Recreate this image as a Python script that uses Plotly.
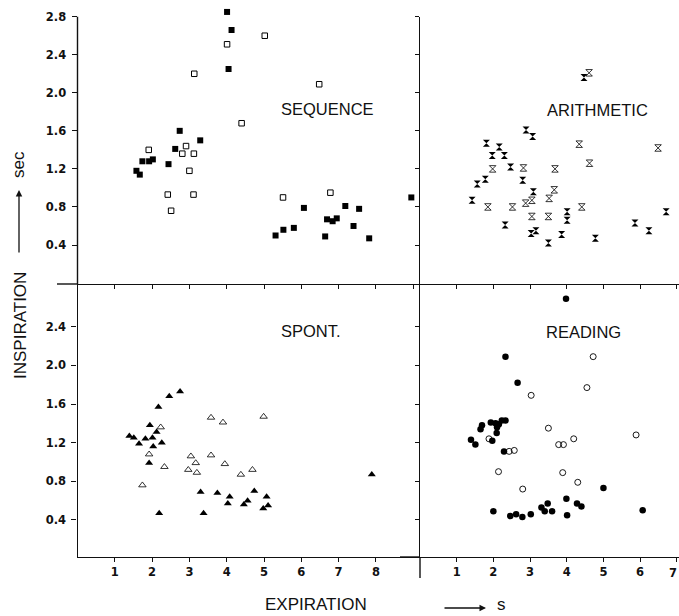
import plotly.graph_objects as go

# ---------------- data ----------------
seq_filled_x = [1.58, 1.67, 1.74, 1.92, 2.02, 2.44, 2.62, 2.74, 3.29, 4.01, 4.13, 4.05,
                5.31, 5.52, 5.80, 6.07, 6.64, 6.69, 6.84, 6.95, 7.18, 7.40, 7.55, 7.82, 8.95]
seq_filled_y = [1.18, 1.14, 1.28, 1.28, 1.30, 1.25, 1.41, 1.60, 1.50, 2.85, 2.66, 2.25,
                0.50, 0.56, 0.58, 0.79, 0.49, 0.67, 0.65, 0.68, 0.81, 0.60, 0.78, 0.47, 0.90]
seq_open_x = [1.91, 2.42, 2.51, 2.81, 2.91, 3.00, 3.12, 3.11, 3.13, 4.01, 4.40, 5.02, 5.51, 6.48, 6.78]
seq_open_y = [1.40, 0.93, 0.76, 1.36, 1.44, 1.18, 1.36, 0.93, 2.20, 2.51, 1.68, 2.60, 0.90, 2.09, 0.95]

ari_filled_x = [1.42, 1.56, 1.78, 1.81, 1.97, 2.16, 2.30, 2.32, 2.47, 2.80, 2.89, 3.07,
                3.09, 3.03, 3.16, 3.50, 3.86, 4.01, 4.01, 4.47, 4.78, 5.86, 6.24, 6.71]
ari_filled_y = [0.87, 1.04, 1.09, 1.47, 1.34, 1.43, 1.34, 0.61, 1.22, 1.08, 1.61, 1.54,
                0.96, 0.52, 0.55, 0.42, 0.51, 0.75, 0.66, 2.16, 0.47, 0.63, 0.55, 0.75]
ari_open_x = [1.98, 1.85, 2.52, 2.82, 2.88, 3.05, 3.05, 3.52, 3.66, 3.68, 3.50, 4.34, 4.62, 4.41, 4.61, 6.49]
ari_open_y = [1.20, 0.80, 0.80, 1.21, 0.84, 0.87, 0.70, 0.89, 0.98, 1.20, 0.70, 1.46, 1.26, 0.80, 2.21, 1.42]

spo_filled_x = [1.39, 1.51, 1.65, 1.82, 1.94, 1.92, 2.01, 2.03, 2.12, 2.17, 2.26, 2.19, 2.46,
                2.75, 3.30, 3.38, 3.75, 4.03, 4.08, 4.46, 4.56, 4.74, 4.98, 5.07, 5.11, 7.89]
spo_filled_y = [1.27, 1.25, 1.19, 1.24, 1.38, 0.99, 1.25, 1.16, 1.31, 1.57, 1.20, 0.47, 1.68,
                1.73, 0.69, 0.47, 0.68, 0.57, 0.64, 0.56, 0.60, 0.70, 0.52, 0.64, 0.55, 0.87]
spo_open_x = [1.74, 1.92, 2.23, 2.33, 2.97, 3.04, 3.17, 3.20, 3.58, 3.58, 3.90, 3.95, 4.38, 4.69, 4.99]
spo_open_y = [0.76, 1.08, 1.36, 0.95, 0.92, 1.06, 0.99, 0.89, 1.46, 1.07, 1.41, 0.98, 0.87, 0.92, 1.47]

rea_filled_x = [3.98, 2.33, 2.66, 1.39, 1.51, 1.65, 1.69, 1.93, 1.97, 2.06, 2.10, 2.09, 2.15,
                2.23, 2.33, 2.29, 2.00, 2.46, 2.62, 2.79, 3.02, 3.31, 3.40, 3.48, 3.60, 3.99,
                4.01, 4.28, 4.40, 5.00, 6.07]
rea_filled_y = [2.69, 2.09, 1.82, 1.23, 1.18, 1.34, 1.38, 1.41, 1.22, 1.40, 1.36, 1.30, 1.39,
                1.43, 1.43, 1.11, 0.49, 0.44, 0.46, 0.43, 0.46, 0.53, 0.49, 0.57, 0.49, 0.62,
                0.45, 0.57, 0.54, 0.73, 0.50]
rea_open_x = [4.72, 4.55, 3.03, 3.50, 1.88, 2.43, 2.57, 2.14, 2.80, 3.78, 3.91, 4.19, 3.89, 4.30, 5.89]
rea_open_y = [2.09, 1.77, 1.69, 1.35, 1.24, 1.11, 1.12, 0.90, 0.72, 1.18, 1.18, 1.24, 0.89, 0.79, 1.28]

top_y_ticks = [0.4, 0.8, 1.2, 1.6, 2.0, 2.4, 2.8]
top_y_labels = ["0.4", "0.8", "1.2", "1.6", "2.0", "2.4", "2.8"]
bot_y_ticks = [0.4, 0.8, 1.2, 1.6, 2.0, 2.4]
bot_y_labels = ["0.4", "0.8", "1.2", "1.6", "2.0", "2.4"]
left_x_ticks = [1, 2, 3, 4, 5, 6, 7, 8]
left_x_labels = ["1", "2", "3", "4", "5", "6", "7", "8"]
right_x_ticks = [1, 2, 3, 4, 5, 6, 7]
right_x_labels = ["1", "2", "3", "4", "5", "6", "7"]
panel_names = ["SEQUENCE", "ARITHMETIC", "SPONT.", "READING"]

# ---------------- layout geometry (pixels) ----------------
W, H = 679, 616

def px(x):
    return x / W
def py(y):
    return min(1.0, max(0.0, 1 - y / H))

XL0, XMID, XR1 = 77.5, 420, 679
Y_TOP, Y_MID, Y_BOT = 16.7, 284, 557
Y_TL_TOP = 5.0    # top-left panel extends a little higher so the point above 2.8 shows

left_range = [0, (XMID - XL0) / 37.3]
right_range = [0, 7.06]
top_range = [-0.01, 2.8]
bot_range = [0.017, 2.842]
top_scale = (Y_MID - Y_TOP) / (top_range[1] - top_range[0])
tl_range = [top_range[0], top_range[0] + (Y_MID - Y_TL_TOP) / top_scale]

fig = go.Figure()

def add(x, y, symbol, size, xa, ya, lw=1.0):
    fig.add_trace(go.Scatter(
        x=x, y=y, mode="markers", xaxis=xa, yaxis=ya, cliponaxis=False,
        marker=dict(symbol=symbol, size=size, color="black", line=dict(width=lw, color="black")),
        showlegend=False, hoverinfo="x+y"))

add(seq_filled_x, seq_filled_y, "square", 6, "x", "y", 0)
add(seq_open_x, seq_open_y, "square-open", 5.5, "x", "y", 1)
add(ari_filled_x, ari_filled_y, "hourglass", 7, "x2", "y2", 0)
add(ari_open_x, ari_open_y, "hourglass-open", 6.5, "x2", "y2", 0.8)
add(spo_filled_x, spo_filled_y, "triangle-up", 7, "x3", "y3", 0)
add(spo_open_x, spo_open_y, "triangle-up-open", 6.5, "x3", "y3", 0.8)
add(rea_filled_x, rea_filled_y, "circle", 6.5, "x4", "y4", 0)
add(rea_open_x, rea_open_y, "circle-open", 6, "x4", "y4", 0.9)

tickfont = dict(family="DejaVu Sans", size=11.5, color="#111", weight="bold")
ax_common = dict(showgrid=False, zeroline=False, showline=True, linecolor="#111", linewidth=1.4,
                 ticks="outside", ticklen=4, tickwidth=1, tickcolor="#111", tickfont=tickfont,
                 automargin=False)

fig.update_layout(
    width=W, height=H, margin=dict(l=0, r=0, t=0, b=0, pad=0), autosize=False,
    paper_bgcolor="white", plot_bgcolor="white",
    xaxis=dict(ax_common, domain=[px(XL0), px(XMID)], range=left_range, anchor="y",
               tickvals=[1, 2, 3, 4, 5, 6, 7, 8, 9], showticklabels=False),
    yaxis=dict(ax_common, domain=[py(Y_MID), py(Y_TL_TOP)], range=tl_range, anchor="x",
               showline=False,
               tickvals=top_y_ticks, ticktext=top_y_labels, ticklen=5, ticklabelstandoff=3),
    xaxis2=dict(ax_common, domain=[px(XMID), 1], range=right_range, anchor="y2",
                tickvals=right_x_ticks, showticklabels=False),
    yaxis2=dict(ax_common, domain=[py(Y_MID), py(Y_TOP)], range=top_range, anchor="x2",
                tickvals=top_y_ticks, showticklabels=False),
    xaxis3=dict(ax_common, domain=[px(XL0), px(XMID)], range=left_range, anchor="y3",
                tickvals=left_x_ticks, ticktext=left_x_labels),
    yaxis3=dict(ax_common, domain=[py(Y_BOT), py(Y_MID)], range=bot_range, anchor="x3",
                tickvals=bot_y_ticks, ticktext=bot_y_labels, ticklen=5, ticklabelstandoff=3),
    xaxis4=dict(ax_common, domain=[px(XMID), 1], range=right_range, anchor="y4",
                tickvals=right_x_ticks, ticktext=right_x_labels),
    yaxis4=dict(ax_common, domain=[py(Y_BOT), py(Y_MID)], range=bot_range, anchor="x4",
                tickvals=bot_y_ticks, showticklabels=False),
)

# extra frame pieces
line = dict(color="#111", width=1.4)
fig.add_shape(type="line", xref="paper", yref="paper", x0=px(XL0), x1=px(XL0), y0=py(Y_MID), y1=py(Y_TOP), line=line)
fig.add_shape(type="line", xref="paper", yref="paper", x0=px(57), x1=px(XL0), y0=py(Y_MID), y1=py(Y_MID), line=line)
fig.add_shape(type="line", xref="paper", yref="paper", x0=px(XMID), x1=px(XMID), y0=py(Y_BOT), y1=py(578), line=line)
fig.add_shape(type="line", xref="paper", yref="paper", x0=px(400), x1=px(XMID), y0=py(Y_BOT), y1=py(Y_BOT), line=line)

# last right-hand tick label sits on the page edge (hidden by plotly as overflowing)
fig.add_annotation(text=right_x_labels[-1], x=1, y=py(573), xref="paper", yref="paper",
                   showarrow=False, font=tickfont, xanchor="right", yanchor="middle")

# panel labels
lab_font = dict(family="Liberation Sans, Arial", size=16.5, color="#111")
label_pos = [(327, 109), (597, 110), (311, 331), (583, 332)]
for name, (lx, ly) in zip(panel_names, label_pos):
    fig.add_annotation(text=name, x=px(lx), y=py(ly), xref="paper", yref="paper",
                       showarrow=False, font=lab_font, xanchor="center", yanchor="middle")

title_font = dict(family="Liberation Sans, Arial", size=17, color="#111")
# y-axis title
fig.add_annotation(text="INSPIRATION", x=px(20), y=py(326), xref="paper", yref="paper",
                   showarrow=False, textangle=-90, font=title_font, xanchor="center", yanchor="middle")
fig.add_annotation(text="", x=px(19), y=py(190), xref="paper", yref="paper",
                   showarrow=True, ax=0, ay=64, arrowhead=2, arrowsize=1, arrowwidth=1.3, arrowcolor="#111")
fig.add_annotation(text="sec", x=px(19), y=py(165), xref="paper", yref="paper",
                   showarrow=False, textangle=-90, font=title_font, xanchor="center", yanchor="middle")
# x-axis title
fig.add_annotation(text="EXPIRATION", x=px(316), y=py(616), xref="paper", yref="paper",
                   showarrow=False, font=title_font, xanchor="center", yanchor="bottom")
fig.add_annotation(text="", x=px(486), y=py(608), xref="paper", yref="paper",
                   showarrow=True, ax=-43, ay=0, arrowhead=2, arrowsize=1, arrowwidth=1.3, arrowcolor="#111")
fig.add_annotation(text="s", x=px(501), y=py(616), xref="paper", yref="paper",
                   showarrow=False, font=title_font, xanchor="center", yanchor="bottom")

fig.write_html("out.html", config={"displayModeBar": False},
               post_script="document.body.style.margin='0';document.body.style.overflow='hidden';")
